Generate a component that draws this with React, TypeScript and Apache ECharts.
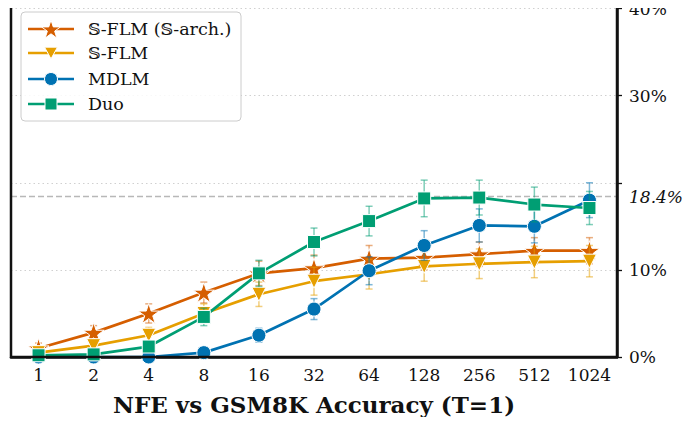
import React, { useEffect, useRef } from "react";
import * as echarts from "echarts";

const categories = ["1", "2", "4", "8", "16", "32", "64", "128", "256", "512", "1024"];
const yTicks = [0, 10, 20, 30, 40];
const refValue = 18.4;

const sflmArch = [1.0, 2.8, 5.0, 7.4, 9.6, 10.2, 11.3, 11.4, 11.8, 12.2, 12.2];
const sflmArchErr = [0.6, 0.8, 1.1, 1.2, 1.4, 1.5, 1.5, 1.4, 1.4, 1.5, 1.5];
const sflm = [0.5, 1.3, 2.5, 5.0, 7.2, 8.7, 9.5, 10.4, 10.7, 10.9, 11.0];
const sflmErr = [0.4, 0.6, 0.9, 1.1, 1.4, 1.6, 1.7, 1.7, 1.7, 1.8, 1.8];
const mdlm = [0.0, 0.0, 0.0, 0.5, 2.5, 5.5, 9.9, 12.8, 15.1, 15.0, 18.0];
const mdlmErr = [0, 0, 0.1, 0.4, 0.8, 1.2, 1.6, 1.7, 1.9, 1.9, 2.0];
const duo = [0.2, 0.3, 1.2, 4.6, 9.6, 13.2, 15.6, 18.2, 18.3, 17.5, 17.1];
const duoErr = [0.2, 0.3, 0.5, 1.0, 1.5, 1.6, 1.7, 2.1, 2.0, 2.0, 1.9];

const STAR_PTS: [number, number][] = [
  [0, -1], [0.2245, -0.309], [0.951, -0.309], [0.363, 0.118], [0.588, 0.809],
  [0, 0.382], [-0.588, 0.809], [-0.363, 0.118], [-0.951, -0.309], [-0.2245, -0.309],
];
const STAR = "path://M" + STAR_PTS.map((p) => p[0] + "," + p[1]).join(" L") + " Z";

const SERIF = "'DejaVu Serif', serif";

type Spec = {
  name: string;
  values: number[];
  errs: number[];
  color: string;
  symbol: string;
  size: number;
  rotate?: number;
};

const specs: Spec[] = [
  { name: "𝕊-FLM (𝕊-arch.)", values: sflmArch, errs: sflmArchErr, color: "#D55E00", symbol: STAR, size: 21 },
  { name: "𝕊-FLM", values: sflm, errs: sflmErr, color: "#E69F00", symbol: "triangle", size: 14, rotate: 180 },
  { name: "MDLM", values: mdlm, errs: mdlmErr, color: "#0072B2", symbol: "circle", size: 14 },
  { name: "Duo", values: duo, errs: duoErr, color: "#009E73", symbol: "rect", size: 13 },
];

function hexToRgba(hex: string, a: number) {
  const n = parseInt(hex.slice(1), 16);
  return `rgba(${(n >> 16) & 255},${(n >> 8) & 255},${n & 255},${a})`;
}

function legendMarker(s: Spec, cx: number, cy: number): any {
  const base = { z: 101, silent: true, style: { fill: s.color, stroke: "#fff", lineWidth: 1 } };
  if (s.symbol === STAR) {
    const r = 10;
    return { ...base, type: "polygon", shape: { points: STAR_PTS.map((p) => [cx + p[0] * r, cy + 1 + p[1] * r]) } };
  }
  if (s.symbol === "triangle") {
    const r = 6.5;
    return { ...base, type: "polygon", shape: { points: [[cx - r, cy - r * 0.9], [cx + r, cy - r * 0.9], [cx, cy + r * 0.9]] } };
  }
  if (s.symbol === "circle") {
    return { ...base, type: "circle", shape: { cx, cy, r: 6.5 } };
  }
  return { ...base, type: "rect", shape: { x: cx - 6, y: cy - 6, width: 12, height: 12 } };
}

export default function App() {
  const ref = useRef<HTMLDivElement>(null);
  useEffect(() => {
    if (!ref.current) return;
    const chart = echarts.init(ref.current, undefined, { renderer: "svg" });
    const series: any[] = [];
    specs.forEach((s, i) => {
      series.push({
        type: "custom",
        name: s.name + "_err",
        z: 2 + i * 2,
        silent: true,
        data: s.values.map((v, k) => [k, v, s.errs[k]]),
        renderItem: (params: any, api: any) => {
          const x = api.value(0);
          const v = api.value(1);
          const e = api.value(2);
          if (!e) return null;
          const top = api.coord([x, v + e]);
          const bot = api.coord([x, Math.max(v - e, -0.5)]);
          const hw = 3.5;
          const style = { stroke: hexToRgba(s.color, 0.5), lineWidth: 1.5 };
          return {
            type: "group",
            children: [
              { type: "line", shape: { x1: top[0], y1: top[1], x2: bot[0], y2: bot[1] }, style },
              { type: "line", shape: { x1: top[0] - hw, y1: top[1], x2: top[0] + hw, y2: top[1] }, style },
              { type: "line", shape: { x1: bot[0] - hw, y1: bot[1], x2: bot[0] + hw, y2: bot[1] }, style },
            ],
          };
        },
      });
      series.push({
        type: "line",
        name: s.name,
        z: 3 + i * 2,
        data: s.values,
        symbol: s.symbol,
        symbolSize: s.size,
        symbolRotate: s.rotate || 0,
        symbolKeepAspect: true,
        showAllSymbol: true,
        lineStyle: { color: s.color, width: 2.7 },
        itemStyle: { color: s.color, borderColor: "#ffffff", borderWidth: 1, opacity: 1 },
        ...(i === 0
          ? {
              markLine: {
                silent: true,
                symbol: "none",
                lineStyle: { color: "#b8b8b8", type: [6, 3], width: 1.3 },
                label: {
                  position: "end",
                  formatter: refValue + "%",
                  fontFamily: SERIF,
                  fontStyle: "italic",
                  fontSize: 17,
                  color: "#111",
                  distance: 12,
                },
                data: [{ yAxis: refValue }],
              },
            }
          : {}),
      });
    });

    const rowY = [29, 53, 79, 104];
    const legendGraphics: any[] = [
      {
        type: "rect",
        silent: true,
        z: 99,
        shape: { x: 21, y: 12, width: 220, height: 109, r: 4 },
        style: { fill: "rgba(255,255,255,0.85)", stroke: "#cccccc", lineWidth: 1 },
      },
    ];
    specs.forEach((s, i) => {
      const y = rowY[i];
      legendGraphics.push({
        type: "line",
        silent: true,
        z: 100,
        shape: { x1: 28, y1: y, x2: 74, y2: y },
        style: { stroke: s.color, lineWidth: 2.7 },
      });
      legendGraphics.push(legendMarker(s, 51, y));
      legendGraphics.push({
        type: "text",
        silent: true,
        z: 100,
        x: 88,
        y: y,
        style: {
          text: s.name,
          fontFamily: SERIF,
          fontSize: 17.5,
          fill: "#111",
          verticalAlign: "middle",
          align: "left",
        },
      });
    });

    chart.setOption({
      animation: false,
      backgroundColor: "#ffffff",
      grid: { left: 11, right: 76, top: 7.4, bottom: 68, containLabel: false },
      xAxis: {
        type: "category",
        data: categories,
        boundaryGap: true,
        name: "NFE vs GSM8K Accuracy (T=1)",
        nameLocation: "middle",
        nameGap: 36,
        nameTextStyle: { fontFamily: SERIF, fontSize: 23, fontWeight: "bold", color: "#111" },
        axisLine: { lineStyle: { color: "#111", width: 2.5 } },
        axisTick: { alignWithLabel: true, length: 5, lineStyle: { color: "#111", width: 1.3 } },
        axisLabel: { interval: 0, fontFamily: SERIF, fontSize: 17, color: "#111", margin: 9 },
        splitLine: { show: false },
      },
      yAxis: {
        type: "value",
        position: "right",
        min: 0,
        max: 40,
        interval: 10,
        axisLine: { show: true, lineStyle: { color: "#111", width: 2.5 } },
        axisTick: { show: true, length: 5, lineStyle: { color: "#111", width: 1.3 } },
        axisLabel: {
          fontFamily: SERIF,
          fontSize: 17,
          color: "#111",
          margin: 12,
          padding: [5, 0, 0, 0],
          formatter: (v: number) => (yTicks.includes(v) && v !== 20 ? v + "%" : ""),
        },
        splitLine: { show: true, lineStyle: { color: "#d0d0d0", type: [1.5, 3], width: 1 } },
      },
      graphic: [
        {
          type: "rect",
          silent: true,
          z: 98,
          shape: { x: 11, y: 3, width: 606, height: 354 },
          style: { fill: "none", stroke: "#111", lineWidth: 2.5 },
        },
        ...legendGraphics,
      ],
      series,
    });
    return () => chart.dispose();
  }, []);
  return <div ref={ref} style={{ width: 693, height: 425, margin: -8 }} />;
}
